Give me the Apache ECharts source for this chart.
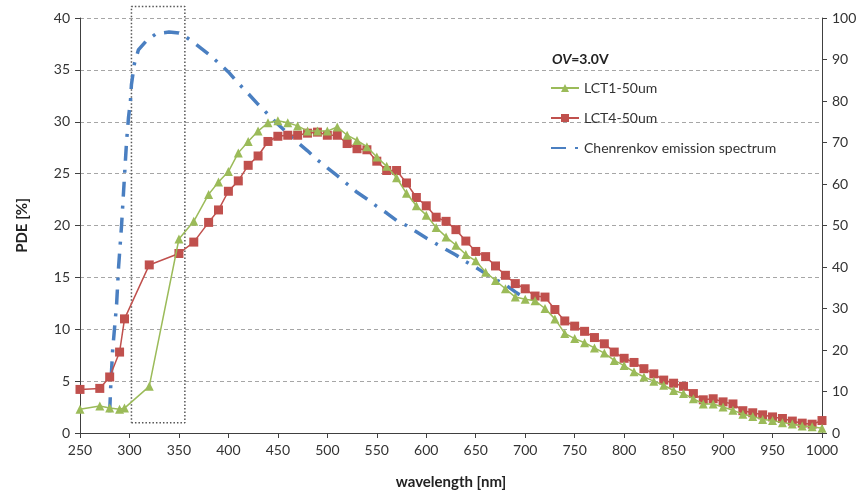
<!DOCTYPE html>
<html>
<head>
<meta charset="utf-8">
<script src="https://cdn.jsdelivr.net/npm/echarts@6/dist/echarts.min.js"></script>
<style>
  html, body { margin: 0; padding: 0; background: #fff; }
  #chart { width: 866px; height: 496px; }
</style>
</head>
<body>
<div id="chart"></div>
<script>
// wavelength [nm] of the measured PDE points
const wavelengths = [250, 270, 280, 290, 295, 320, 350, 365,
  380, 390, 400, 410, 420, 430, 440, 450, 460, 470, 480, 490, 500, 510, 520, 530, 540,
  550, 560, 570, 580, 590, 600, 610, 620, 630, 640, 650, 660, 670, 680, 690, 700,
  710, 720, 730, 740, 750, 760, 770, 780, 790, 800, 810, 820, 830, 840, 850, 860,
  870, 880, 890, 900, 910, 920, 930, 940, 950, 960, 970, 980, 990, 1000];

// PDE [%] LCT1-50um
const lct1 = [2.3, 2.6, 2.4, 2.3, 2.4, 4.5, 18.7, 20.4,
  23.0, 24.2, 25.2, 27.0, 28.1, 29.1, 29.9, 30.1, 29.9, 29.6, 29.1, 29.1, 29.1, 29.5, 28.7, 28.2, 27.6,
  26.6, 25.7, 24.6, 23.1, 21.9, 21.0, 19.8, 18.9, 18.1, 17.2, 16.6, 15.5, 14.7, 13.9, 13.1, 12.9,
  12.75, 12.0, 11.0, 9.6, 9.1, 8.7, 8.2, 7.7, 7.0, 6.5, 5.9, 5.4, 5.0, 4.6, 4.1, 3.8,
  3.3, 2.8, 2.8, 2.5, 2.2, 1.8, 1.6, 1.3, 1.2, 1.0, 0.87, 0.67, 0.6, 0.45];

// PDE [%] LCT4-50um
const lct4 = [4.2, 4.3, 5.4, 7.8, 11.0, 16.2, 17.3, 18.4,
  20.3, 21.5, 23.3, 24.3, 25.8, 26.7, 28.1, 28.6, 28.7, 28.7, 28.9, 29.0, 28.7, 28.7, 27.9, 27.4, 27.3,
  26.2, 25.3, 25.3, 24.1, 22.7, 21.9, 20.8, 20.4, 19.6, 18.5, 17.5, 17.0, 16.1, 15.2, 14.4, 13.9,
  13.2, 13.1, 11.9, 10.8, 10.3, 9.8, 9.2, 8.6, 7.8, 7.2, 6.8, 6.2, 5.7, 5.1, 4.8, 4.5,
  3.8, 3.2, 3.3, 3.0, 2.8, 2.15, 1.95, 1.75, 1.55, 1.4, 1.15, 0.95, 0.85, 1.2];

// Cherenkov emission spectrum (right axis, a.u.)
const cherWl = [280, 281, 283, 287, 289, 292, 295, 297, 299, 301, 302, 305, 309, 317, 327, 340, 350, 355, 366,
  380, 390, 400, 410, 420, 430, 440, 450, 460, 470, 480, 490, 500, 510, 520, 530, 540,
  550, 560, 570, 580, 590, 600, 610, 620, 630, 640, 650, 660, 670, 680, 690, 700];
const cherVal = [5, 11, 20, 31, 40, 50, 62, 70, 76, 80, 84, 89, 92.3, 94.5, 96.2, 96.6, 96.4, 95.8, 93.9,
  91.3, 89.2, 87, 84.3, 81.8, 79.2, 76.8, 74.4, 72.2, 70, 68, 65.8, 63.9, 62, 60, 58, 56.4,
  54.6, 53, 51.2, 50, 48.5, 47, 45.6, 44.2, 42.9, 41.3, 39.9, 38.4, 37, 35.7, 34, 32.5];

// dotted box marking the UV region
const boxX = [302, 356, 356, 302, 302];
const boxY = [1, 1, 41.1, 41.1, 1];

const leftTicks = { min: 0, max: 40, interval: 5 };
const rightTicks = { min: 0, max: 100, interval: 10 };

const zip = (xs, ys) => xs.map((x, i) => [x, ys[i]]);

const FONT = 'Lato, "Open Sans", sans-serif';
const AXIS_COLOR = '#404040';

const chart = echarts.init(document.getElementById('chart'));
chart.setOption({
  animation: false,
  textStyle: { fontFamily: FONT },
  grid: { left: 80, right: 44, top: 18, bottom: 63 },
  title: {
    text: '{i|OV}{b|=3.0V}',
    left: 547,
    top: 47,
    textStyle: {
      rich: {
        i: { fontFamily: FONT, fontSize: 14, fontWeight: 'bold', fontStyle: 'italic', color: '#222' },
        b: { fontFamily: FONT, fontSize: 14, fontWeight: 'bold', color: '#222' }
      }
    }
  },
  legend: {
    data: [
      'LCT1-50um',
      'LCT4-50um',
      { name: 'Chenrenkov emission spectrum', itemStyle: { color: 'rgba(0,0,0,0)', borderWidth: 0 } }
    ],
    orient: 'vertical',
    left: 545,
    top: 76,
    itemWidth: 28,
    itemHeight: 10,
    itemGap: 16,
    textStyle: { fontFamily: FONT, fontSize: 14, color: '#333' }
  },
  xAxis: {
    type: 'value',
    min: 250,
    max: 1000,
    interval: 50,
    name: 'wavelength [nm]',
    nameLocation: 'middle',
    nameGap: 42,
    nameTextStyle: { fontFamily: FONT, fontSize: 15, fontWeight: 'bold', color: '#222' },
    axisLine: { lineStyle: { color: AXIS_COLOR, width: 1 } },
    axisTick: { show: true, length: 5, lineStyle: { color: AXIS_COLOR } },
    axisLabel: { fontFamily: FONT, fontSize: 14, color: '#333', margin: 10, formatter: v => String(v) },
    splitLine: { show: false }
  },
  yAxis: [{
    type: 'value',
    ...leftTicks,
    name: 'PDE [%]',
    nameLocation: 'middle',
    nameGap: 50,
    nameTextStyle: { fontFamily: FONT, fontSize: 15, fontWeight: 'bold', color: '#222' },
    axisLine: { show: true, lineStyle: { color: AXIS_COLOR, width: 1 } },
    axisTick: { show: true, length: 5, lineStyle: { color: AXIS_COLOR } },
    axisLabel: { fontFamily: FONT, fontSize: 14, color: '#333', margin: 10 },
    splitLine: { show: true, lineStyle: { color: '#a6a6a6', type: [4, 3], width: 1 } }
  }, {
    type: 'value',
    ...rightTicks,
    position: 'right',
    axisLine: { show: true, lineStyle: { color: AXIS_COLOR, width: 1 } },
    axisTick: { show: true, length: 5, lineStyle: { color: AXIS_COLOR } },
    axisLabel: { fontFamily: FONT, fontSize: 14, color: '#333', margin: 10 },
    splitLine: { show: false }
  }],
  series: [{
    name: 'box',
    type: 'line',
    data: zip(boxX, boxY),
    clip: false,
    silent: true,
    symbol: 'none',
    z: 1,
    lineStyle: { color: '#555', width: 1.5, type: [1.5, 2] }
  }, {
    name: 'Chenrenkov emission spectrum',
    type: 'line',
    yAxisIndex: 1,
    data: zip(cherWl, cherVal),
    symbol: 'none',
    z: 2,
    color: '#4a7fc1',
    lineStyle: { color: '#4a7fc1', width: 3.5, type: [15, 9, 3, 9] }
  }, {
    name: 'LCT4-50um',
    type: 'line',
    data: zip(wavelengths, lct4),
    symbol: 'rect',
    symbolSize: 9,
    z: 3,
    color: '#c0504d',
    itemStyle: { color: '#c0504d' },
    lineStyle: { color: '#c0504d', width: 1.5 }
  }, {
    name: 'LCT1-50um',
    type: 'line',
    data: zip(wavelengths, lct1),
    symbol: 'triangle',
    symbolSize: 9,
    z: 4,
    color: '#9bbb59',
    itemStyle: { color: '#9bbb59' },
    lineStyle: { color: '#9bbb59', width: 1.5 }
  }]
});
</script>
</body>
</html>
